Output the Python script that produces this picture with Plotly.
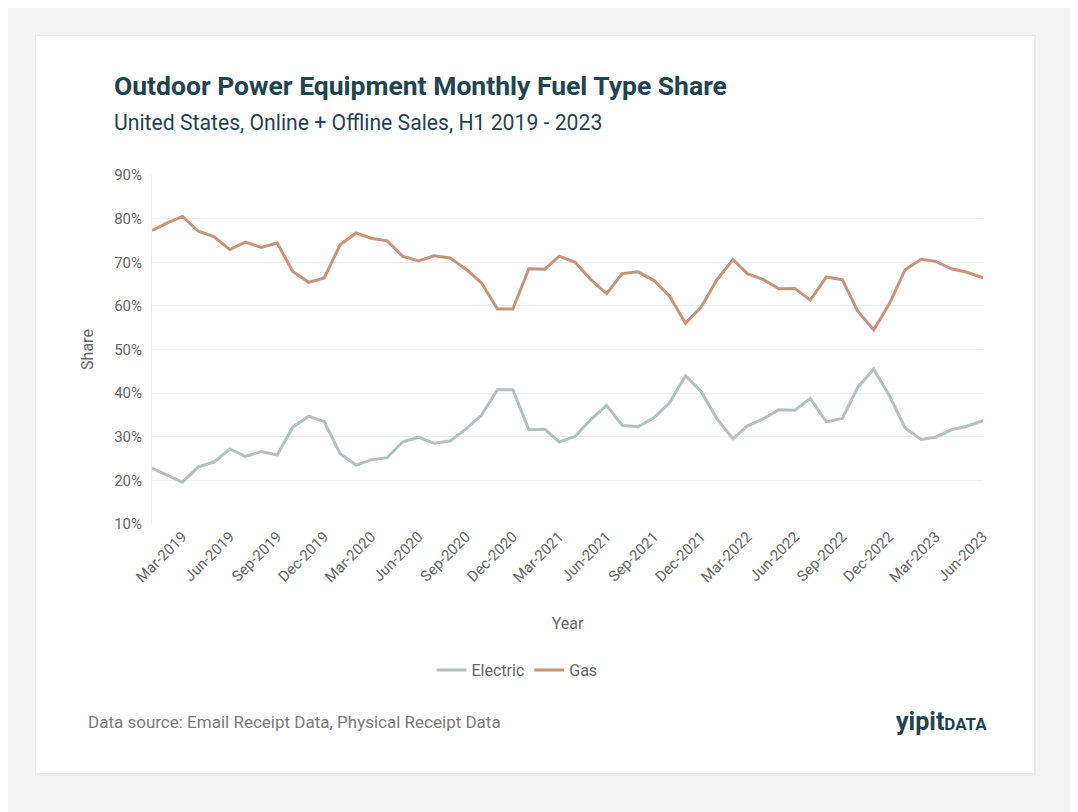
import plotly.graph_objects as go
import pandas as pd

months = pd.date_range("2019-01-01", "2023-06-01", freq="MS")

gas = [77.3, 79.1, 80.5, 77.1, 75.9, 72.9, 74.6, 73.4, 74.4, 67.9,
       65.4, 66.4, 74.0, 76.7, 75.5, 74.9, 71.4, 70.3, 71.5, 71.0,
       68.4, 65.3, 59.3, 59.3, 68.5, 68.4, 71.4, 70.0, 66.0, 62.8,
       67.4, 67.8, 65.8, 62.2, 56.0, 59.7, 66.0, 70.6, 67.4, 66.0,
       63.9, 64.0, 61.3, 66.6, 66.0, 58.8, 54.5, 60.4, 68.3, 70.7,
       70.2, 68.5, 67.7, 66.4]

electric = [22.8, 21.1, 19.6, 23.1, 24.2, 27.2, 25.5, 26.6, 25.8, 32.2,
            34.7, 33.5, 26.1, 23.5, 24.7, 25.2, 28.8, 29.9, 28.5, 29.0,
            31.8, 34.9, 40.8, 40.8, 31.6, 31.7, 28.8, 30.1, 33.9, 37.2,
            32.6, 32.3, 34.4, 37.8, 44.0, 40.4, 34.1, 29.5, 32.5, 34.1,
            36.2, 36.1, 38.8, 33.4, 34.2, 41.3, 45.5, 39.5, 32.0, 29.4,
            29.9, 31.6, 32.4, 33.7]

y_ticks = [10, 20, 30, 40, 50, 60, 70, 80, 90]
y_tick_labels = [f"{v}%" for v in y_ticks]

title = "Outdoor Power Equipment Monthly Fuel Type Share"
subtitle = "United States, Online + Offline Sales, H1 2019 - 2023"
source = "Data source: Email Receipt Data, Physical Receipt Data"

OFF = 8  # default body margin of the page
W, H = 1078 - OFF, 812 - OFF
FONT = "Roboto"
DARK = "#1f4451"
GREY = "#666666"

fig = go.Figure()
fig.add_trace(go.Scatter(x=months, y=electric, name="Electric", mode="lines",
                         line=dict(color="#b4bfbf", width=3)))
fig.add_trace(go.Scatter(x=months, y=gas, name="Gas", mode="lines",
                         line=dict(color="#c8937c", width=3)))

# plot area in screen pixels
PL, PR, PT, PB = 152, 983, 175, 524
ml, mr, mt, mb = PL - OFF, W - (PR - OFF), PT - OFF, H - (PB - OFF)
pw, ph = W - ml - mr, H - mt - mb


def ax(xs):
    return (xs - OFF - ml) / pw


def ay(ys):
    return (H - (ys - OFF) - mb) / ph


shapes = [
    dict(type="rect", xref="paper", yref="paper", layer="below",
         x0=ax(35), x1=ax(1036), y0=ay(776), y1=ay(35),
         fillcolor="#ebebeb", line=dict(width=0)),
    dict(type="rect", xref="paper", yref="paper", layer="below",
         x0=ax(36), x1=ax(1034), y0=ay(773), y1=ay(36),
         fillcolor="white", line=dict(width=0)),
]

annotations = [
    dict(text=f"<b>{title}</b>", x=ax(112), y=ay(85), xref="paper", yref="paper",
         xanchor="left", yanchor="middle", showarrow=False,
         font=dict(family=FONT, size=26.5, color=DARK)),
    dict(text=subtitle, x=ax(112), y=ay(122), xref="paper", yref="paper",
         xanchor="left", yanchor="middle", showarrow=False,
         font=dict(family=FONT, size=21.2, color=DARK)),
    dict(text=source, x=ax(86), y=ay(722), xref="paper", yref="paper",
         xanchor="left", yanchor="middle", showarrow=False,
         font=dict(family=FONT, size=17, color="#7a7a7a")),
    dict(text="<b>yipit</b><b><span style='font-size:17px'>DATA</span></b>",
         x=ax(989), y=ay(721), xref="paper", yref="paper",
         xanchor="right", yanchor="middle", showarrow=False,
         font=dict(family=FONT, size=25, color=DARK)),
]

fig.update_layout(
    width=W, height=H,
    margin=dict(l=ml, r=mr, t=mt, b=mb),
    paper_bgcolor="#f4f4f4",
    plot_bgcolor="white",
    font=dict(family=FONT, color=GREY, size=15),
    shapes=shapes,
    annotations=annotations,
    showlegend=True,
    legend=dict(orientation="h", x=ax(517), y=ay(670), xanchor="center", yanchor="middle",
                font=dict(family=FONT, size=16, color=GREY), bgcolor="rgba(0,0,0,0)",
                itemwidth=30),
    xaxis=dict(
        range=[months[0], months[-1]],
        tickformat="%b-%Y", dtick="M3", tick0="2019-03-01",
        tickangle=-45, showgrid=False, zeroline=False, showline=False,
        ticks="", tickfont=dict(size=15, color=GREY),
        title=dict(text="Year", font=dict(size=16, color=GREY), standoff=32),
    ),
    yaxis=dict(
        range=[10, 90], tickvals=y_ticks, ticktext=y_tick_labels,
        showgrid=True, gridcolor="#efefef", gridwidth=1, zeroline=False,
        showline=True, linecolor="#eeeeee", linewidth=1,
        ticks="", tickfont=dict(size=15, color=GREY), ticklabelstandoff=6,
        title=dict(text="Share", font=dict(size=16, color=GREY), standoff=16),
    ),
)

fig.write_html("out.html")
